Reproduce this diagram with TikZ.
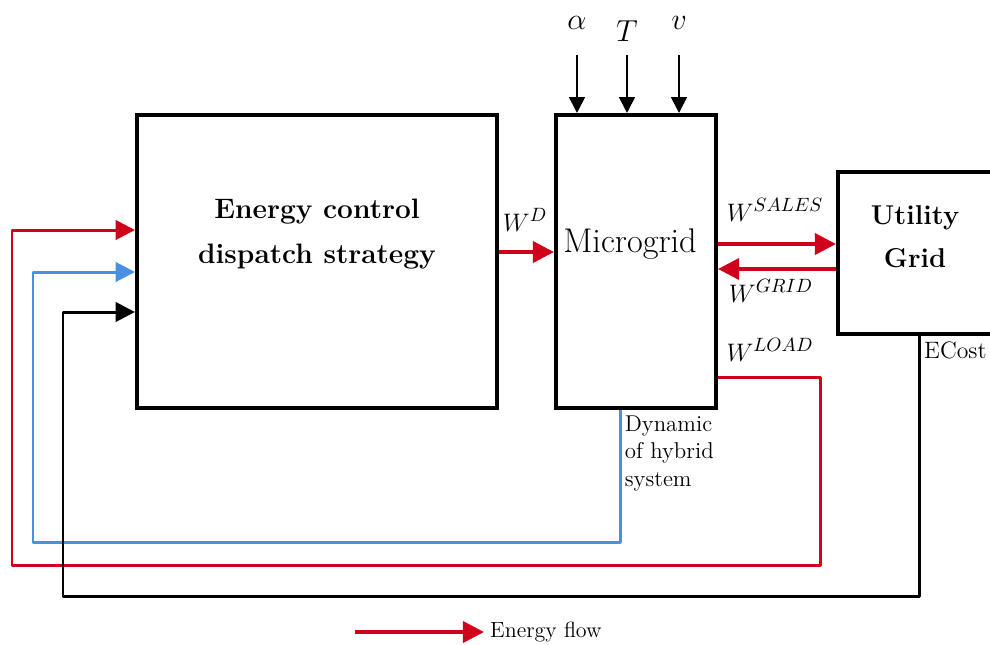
\documentclass[tikz,border=0pt]{standalone}
\usepackage{amsmath,amssymb}
\usetikzlibrary{arrows.meta,positioning,calc}
\definecolor{flowred}{RGB}{208,2,27}
\definecolor{signalblue}{RGB}{74,144,226}

\tikzset{
  block/.style={draw, line width=2.3pt, inner sep=0pt},
  blocktext/.style={align=center, font=\fontsize{16}{25.6}\selectfont\bfseries},
  flowlabel/.style={font=\fontsize{15}{17}\selectfont},
  flow/.style={draw=flowred, line width=2pt, -{Triangle[length=12pt,width=12pt]}},
  feedback/.style={line width=1.7pt, line join=round, -{Triangle[length=11pt,width=11pt]}},
  inarrow/.style={draw=black, line width=1pt, -{Triangle[length=9pt,width=9pt]}}
}

\begin{document}
\begin{tikzpicture}[x=0.2mm,y=-0.2mm]
\useasboundingbox (0,0) rectangle (990,644);

% blocks
\node[block, minimum width=72mm, minimum height=58.6mm] (dispatch) at (317,261.5) {};
\node[block, minimum width=32mm, minimum height=58.6mm] (microgrid) at (636,261.5) {};
\node[block, minimum width=32.4mm, minimum height=32.4mm] (utility) at (919,253) {};

\node[blocktext] (dispatchlbl) at (317,234) {Energy control\\dispatch strategy};
\node[font=\fontsize{19.5}{23}\selectfont] (microgridlbl) at (630,244) {Microgrid};
\node[blocktext, font=\fontsize{15.5}{24.5}\selectfont\bfseries] (utilitylbl) at (915,237) {Utility\\Grid};

% weather inputs
\node[font=\fontsize{18}{20}\selectfont] (alphalbl) at (577,23) {$\alpha$};
\node[font=\fontsize{18}{20}\selectfont] (templbl) at (627,31) {$T$};
\node[font=\fontsize{18}{20}\selectfont] (windlbl) at (679,23) {$v$};
\foreach \name/\xpos in {alphain/577, tempin/627, windin/679} {
  \coordinate (\name) at (\xpos,55);
  \draw[inarrow] (\name) -- (\name |- microgrid.north);
}

% energy flows
\draw[flow] (dispatch.east |- 0,252) -- (microgrid.west |- 0,252);
\node[flowlabel] (wdlbl) at (525,220) {$W^{D}$};
\draw[flow] (microgrid.east |- 0,244) -- (utility.west |- 0,244);
\node[flowlabel] (wsaleslbl) at (775,210) {$W^{SALES}$};
\draw[flow] (utility.west |- 0,269) -- (microgrid.east |- 0,269);
\node[flowlabel] (wgridlbl) at (771,291) {$W^{GRID}$};
\node[flowlabel] (wloadlbl) at (770,350) {$W^{LOAD}$};

% feedback lines
\draw[feedback, draw=flowred] (microgrid.east |- 0,377) -| (820,565) -| (12,230) -- (dispatch.west |- 0,230);
\draw[feedback, draw=signalblue] (microgrid.south -| 620,0) |- (33,542) |- (dispatch.west |- 0,272);
\draw[feedback, draw=black] (utility.south) |- (63,596) |- (dispatch.west |- 0,312);

\node[anchor=west, font=\fontsize{13.5}{15}\selectfont] (ecostlbl) at (918,350) {ECost};
\node[anchor=north west, align=left, inner sep=2pt, font=\fontsize{13}{15.6}\selectfont] (dynamiclbl) at (621,412) {Dynamic\\of hybrid\\system};

% legend
\coordinate (legendstart) at (355,632);
\node[anchor=west, font=\fontsize{12.5}{14}\selectfont] (legendlbl) at (484,632) {Energy flow};
\draw[flow] (legendstart) -- (legendlbl.west);
\end{tikzpicture}
\end{document}
